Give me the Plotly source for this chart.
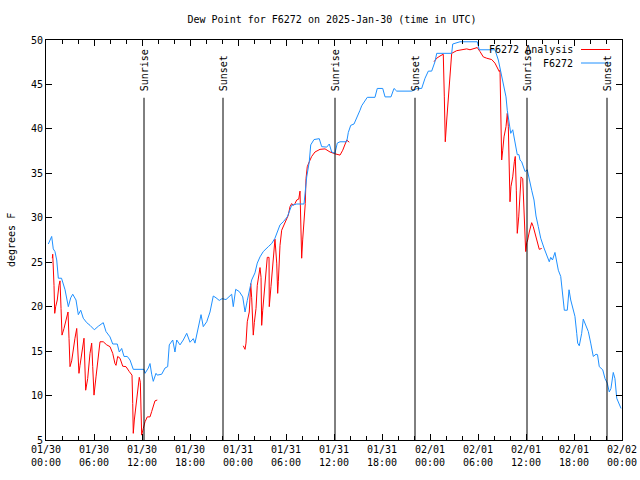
import pandas as pd
import plotly.graph_objects as go

TITLE = "Dew Point for F6272 on 2025-Jan-30 (time in UTC)"
START = "2025-01-30 00:00"
END = "2025-02-02 00:00"

# Observed station dew point (hours since START, deg F)
obs_hours = [0.29, 0.71, 0.91, 1.12, 1.34, 1.54, 1.94, 2.16, 2.38, 2.79, 3.09, 3.34, 3.75, 4.04, 4.34,
             4.66, 5.09, 5.5, 6.04, 6.54, 7.16, 7.5, 8.0, 8.34, 8.91, 9.16, 9.46, 9.75, 10.16, 10.5,
             10.91, 12.25, 12.38, 12.79, 13.0, 13.21, 13.41, 13.75, 13.91, 14.46, 14.88, 15.21, 15.41,
             15.84, 16.12, 16.34, 16.75, 17.16, 17.59, 18.0, 18.41, 18.62, 19.04, 19.38, 19.66, 20.09,
             20.5, 20.91, 21.25, 21.66, 22.0, 22.5, 23.21, 23.41, 23.71, 24.16, 24.59, 24.88, 25.16,
             25.5, 25.71, 26.12, 26.41, 26.75, 27.16, 27.79, 28.21, 28.62, 29.04, 29.25, 29.66, 30.16,
             30.71, 31.34, 32.25, 32.38, 32.59, 32.91, 33.09, 33.5, 34.16, 34.46, 35.09, 35.41, 35.71,
             36.12, 36.41, 36.75, 37.59, 37.79, 38.09, 38.5, 38.84, 39.25, 39.46, 39.88, 40.16, 41.12,
             41.41, 42.09, 42.38, 43.12, 43.5, 43.84, 45.71, 46.41, 46.96, 47.38, 47.79, 48.21, 48.62,
             48.84, 50.71, 50.84, 51.75, 53.91, 54.16, 56.12, 56.54, 56.75, 56.96, 57.25, 57.5, 57.66,
             57.91, 58.09, 58.34, 58.5, 58.71, 58.91, 59.12, 59.25, 59.46, 59.66, 59.88, 60.16, 60.41,
             60.71, 61.0, 61.25, 61.54, 61.84, 62.25, 62.66, 62.91, 63.09, 63.31, 63.62, 63.84, 64.04,
             64.34, 64.59, 64.79, 65.16, 65.38, 65.59, 65.91, 66.12, 66.34, 66.46, 66.66, 66.96, 67.16,
             67.5, 67.79, 68.09, 68.41, 68.75, 68.94, 69.16, 69.59, 69.88, 70.16, 70.41, 70.62, 70.91,
             71.12, 71.34, 71.66, 71.88]
obs_values = [27.05, 27.9, 26.5, 26.2, 25.25, 23.2, 23.2, 22.4, 21.9, 20.0, 21.0, 21.4, 20.75, 19.1, 19.6,
              18.7, 18.2, 17.9, 17.4, 17.8, 18.2, 17.2, 16.6, 15.8, 15.8, 14.9, 15.3, 14.4, 14.4, 14.0,
              12.95, 12.95, 12.5, 13.1, 13.6, 12.4, 11.6, 12.5, 12.3, 12.4, 13.1, 13.25, 15.7,
              16.25, 14.9, 16.25, 15.7, 16.25, 17.0, 16.0, 16.4, 15.9, 17.75, 19.1, 17.75, 18.3,
              19.4, 21.2, 21.0, 20.7, 20.9, 20.8, 21.4, 20.0, 21.95, 21.7, 21.1, 19.4, 20.7,
              22.25, 23.0, 23.8, 24.9, 25.6, 26.2, 26.75, 27.1, 27.7, 28.6, 29.2, 29.55, 30.1,
              31.4, 31.55, 31.55, 32.55, 34.6, 36.3, 38.2, 38.8, 38.9, 38.0, 37.95, 38.3, 37.4,
              37.25, 38.4, 38.55, 38.55, 39.6, 40.4, 40.55, 41.2, 42.1, 42.6, 43.25, 43.55, 43.55,
              44.55, 44.55, 43.6, 43.6, 44.55, 44.25, 44.25, 44.55, 44.55, 45.7, 46.5, 46.5, 47.55,
              48.5, 48.5, 49.55, 49.8, 49.8, 48.9, 48.9, 47.75, 46.85, 45.9, 44.8, 43.6, 42.1,
              40.6, 39.5, 39.9, 39.1, 37.8, 37.1, 37.1, 36.5, 36.3, 35.75, 35.2, 35.4, 34.25,
              33.1, 32.0, 30.2, 29.0, 27.7, 26.6, 25.6, 25.05, 25.55, 25.25, 26.1, 25.05, 24.1,
              23.4, 21.5, 19.6, 19.6, 21.9, 20.75, 19.8, 18.9, 17.0, 15.9, 15.6, 17.0, 18.6,
              17.9, 17.2, 15.9, 14.4, 14.65, 14.6, 13.25, 12.9, 11.9, 11.4, 10.4, 10.8, 12.6,
              11.9, 9.7, 9.1, 8.55]

# Analysis dew point, three separate segments
ana1_hours = [0.79, 0.84, 1.0, 1.09, 1.21, 1.41, 1.62, 1.75, 1.88, 2.0, 2.25, 2.5, 2.75, 2.88, 3.0, 3.21,
              3.41, 3.62, 3.84, 3.96, 4.12, 4.25, 4.54, 4.75, 4.96, 5.21, 5.5, 5.71, 5.84, 6.0, 6.25,
              6.54, 6.75, 7.16, 7.59, 8.0, 8.34, 8.62, 8.75, 8.96, 9.25, 9.59, 10.0, 10.41, 10.75,
              10.84, 10.91, 11.04, 11.34, 11.54, 11.66, 11.79, 11.88, 11.96, 12.16, 12.38, 12.66,
              13.0, 13.21, 13.62, 13.91]
ana1_values = [25.45, 25.9, 22.4, 19.25, 20.0, 20.75, 22.4, 22.9, 19.8, 16.8, 17.55, 18.5, 19.4, 16.4,
               13.25, 13.9, 15.5, 16.45, 17.55, 14.75, 12.5, 13.4, 15.1, 16.45, 10.6, 11.9, 14.75,
               15.9, 13.25, 10.05, 12.1, 14.4, 16.05, 16.05, 15.7, 15.5, 14.75, 13.6, 13.4, 14.4,
               14.2, 13.3, 13.25, 12.7, 12.3, 9.1, 5.75, 7.25, 9.3, 10.8, 12.05, 11.5, 7.25, 5.55,
               6.3, 7.05, 7.6, 7.6, 8.2, 9.4, 9.5]
ana2_hours = [24.66, 24.88, 25.0, 25.16, 25.41, 25.59, 25.71, 25.91, 26.04, 26.25, 26.41, 26.75, 26.88,
              26.96, 27.09, 27.25, 27.46, 27.66, 27.88, 27.91, 28.12, 28.34, 28.5, 28.62, 28.84,
              28.96, 29.04, 29.25, 29.46, 29.66, 29.88, 30.09, 30.29, 30.5, 30.71, 30.91, 31.12,
              31.34, 31.59, 31.75, 31.84, 31.96, 32.09, 32.25, 32.41, 32.5, 32.66, 32.91, 33.21,
              33.62, 34.25, 34.88, 35.5, 36.12, 36.75, 37.09, 37.59, 37.91]
ana2_values = [15.6, 15.2, 15.9, 18.3, 19.4, 22.6, 21.0, 16.8, 18.2, 19.8, 22.4, 24.4, 23.3, 17.9,
               19.6, 21.5, 23.4, 25.55, 25.55, 20.0, 22.25, 24.5, 26.75, 27.6, 24.9, 21.5, 22.8,
               26.9, 28.6, 29.0, 29.4, 29.9, 30.3, 31.25, 31.6, 31.4, 31.6, 32.0, 32.1, 33.0, 29.9,
               25.45, 27.6, 30.0, 31.6, 34.4, 35.75, 36.3, 36.9, 37.4, 37.7, 37.75, 37.4, 37.2,
               37.05, 37.6, 38.75, 38.5]
ana3_hours = [48.5, 48.84, 49.25, 49.66, 49.79, 49.91, 50.09, 50.29, 50.5, 50.71, 51.34, 51.96, 52.59,
              53.0, 53.62, 53.91, 54.25, 54.66, 55.09, 55.71, 56.12, 56.41, 56.66, 56.75, 56.84,
              56.96, 57.09, 57.25, 57.5, 57.66, 57.79, 57.91, 58.0, 58.12, 58.34, 58.54, 58.66,
              58.79, 58.91, 59.09, 59.25, 59.38, 59.59, 59.71, 59.84, 59.96, 60.09, 60.21, 60.41,
              60.71, 60.91, 61.12, 61.41, 61.66, 61.96]
ana3_values = [47.55, 47.95, 48.2, 48.4, 43.6, 38.55, 41.0, 43.25, 46.25, 48.5, 48.8, 48.9, 49.0,
               48.9, 49.05, 49.15, 48.7, 48.1, 47.95, 47.8, 47.4, 46.85, 46.45, 46.6, 41.75, 36.5,
               37.6, 39.1, 40.25, 41.75, 40.25, 36.5, 31.8, 33.5, 34.6, 36.3, 36.9, 33.1, 28.25,
               30.1, 33.1, 34.6, 34.4, 31.6, 28.6, 26.2, 27.2, 27.5, 28.4, 29.45, 29.0, 28.25,
               27.1, 26.45, 26.55]

# Sun events (hours since START)
event_hours = [12.25, 22.125, 36.125, 46.125, 60.125, 70.125]
event_labels = ["Sunrise", "Sunset", "Sunrise", "Sunset", "Sunrise", "Sunset"]

Y_MIN, Y_MAX = 5, 50
EVENT_TOP = 43.5

base = pd.Timestamp(START)


def to_time(hours):
    return [base + pd.Timedelta(hours=h) for h in hours]


FONT = "DejaVu Sans Mono"
FS = 10
RED = "#ff0000"
BLUE = "#1e90ff"

W, H = 640, 480
ML, MR, MT, MB = 46, 18, 40, 40
PW, PH = W - ML - MR, H - MT - MB


def px_to_paper_x(px):
    return (px - ML) / PW


def py_to_paper_y(py):
    return 1 - (py - MT) / PH


fig = go.Figure()
for hrs, vals in [(ana1_hours, ana1_values), (ana2_hours, ana2_values), (ana3_hours, ana3_values)]:
    fig.add_trace(go.Scatter(x=to_time(hrs), y=vals, mode="lines",
                             line=dict(color=RED, width=1), showlegend=False, hoverinfo="skip"))
fig.add_trace(go.Scatter(x=to_time(obs_hours), y=obs_values, mode="lines",
                         line=dict(color=BLUE, width=1), showlegend=False, hoverinfo="skip"))

for h, lab in zip(event_hours, event_labels):
    t = base + pd.Timedelta(hours=h)
    fig.add_shape(type="line", xref="x", yref="y", x0=t, x1=t, y0=Y_MIN, y1=EVENT_TOP,
                  line=dict(color="black", width=1))
    fig.add_annotation(x=t, y=EVENT_TOP + 0.5, xref="x", yref="y", text=lab, showarrow=False,
                       textangle=-90, xanchor="center", yanchor="bottom",
                       font=dict(family=FONT, size=FS, color="black"))

# Legend (drawn manually, gnuplot style: text then sample)
legend_items = [("F6272 Analysis", RED), ("F6272", BLUE)]
for i, (name, col) in enumerate(legend_items):
    ypx = 49.5 + i * 13.5
    yp = py_to_paper_y(ypx)
    fig.add_annotation(x=px_to_paper_x(575), y=yp, xref="paper", yref="paper", text=name,
                       showarrow=False, xanchor="right", yanchor="middle",
                       font=dict(family=FONT, size=FS, color="black"))
    fig.add_shape(type="line", xref="paper", yref="paper",
                  x0=px_to_paper_x(581), x1=px_to_paper_x(610), y0=yp, y1=yp,
                  line=dict(color=col, width=1))

fig.add_annotation(x=px_to_paper_x(11), y=0.5, xref="paper", yref="paper", text="degrees F",
                   showarrow=False, textangle=-90, xanchor="center", yanchor="middle",
                   font=dict(family=FONT, size=FS, color="black"))

fig.update_layout(
    width=W, height=H,
    margin=dict(l=ML, r=MR, t=MT, b=MB, autoexpand=False),
    paper_bgcolor="white", plot_bgcolor="white",
    title=dict(text=TITLE, x=332 / W, xanchor="center", y=1 - 19 / H,
               yanchor="middle", font=dict(family=FONT, size=FS, color="black")),
    font=dict(family=FONT, size=FS, color="black"),
    showlegend=False,
)
fig.update_xaxes(
    range=[START, END], type="date", automargin=False,
    tick0=START, dtick=6 * 3600 * 1000, tickformat="%m/%d<br>%H:%M",
    ticks="inside", ticklen=6, tickcolor="black",
    minor=dict(dtick=2 * 3600 * 1000, ticks="inside", ticklen=4, tickcolor="black"),
    showline=True, linecolor="black", linewidth=1, mirror="allticks",
    showgrid=False, zeroline=False,
    tickfont=dict(family=FONT, size=FS, color="black"),
)
fig.update_yaxes(
    range=[Y_MIN, Y_MAX], dtick=5, tick0=5, automargin=False,
    ticks="inside", ticklen=6, tickcolor="black",
    showline=True, linecolor="black", linewidth=1, mirror="allticks",
    showgrid=False, zeroline=False,
    tickfont=dict(family=FONT, size=FS, color="black"),
)

# remove the browser's default 8px page margin so the 640x480 figure fills the window exactly
fig.write_html("out.html", config={"displayModeBar": False},
               post_script="document.body.style.margin='0';document.body.style.overflow='hidden';")
